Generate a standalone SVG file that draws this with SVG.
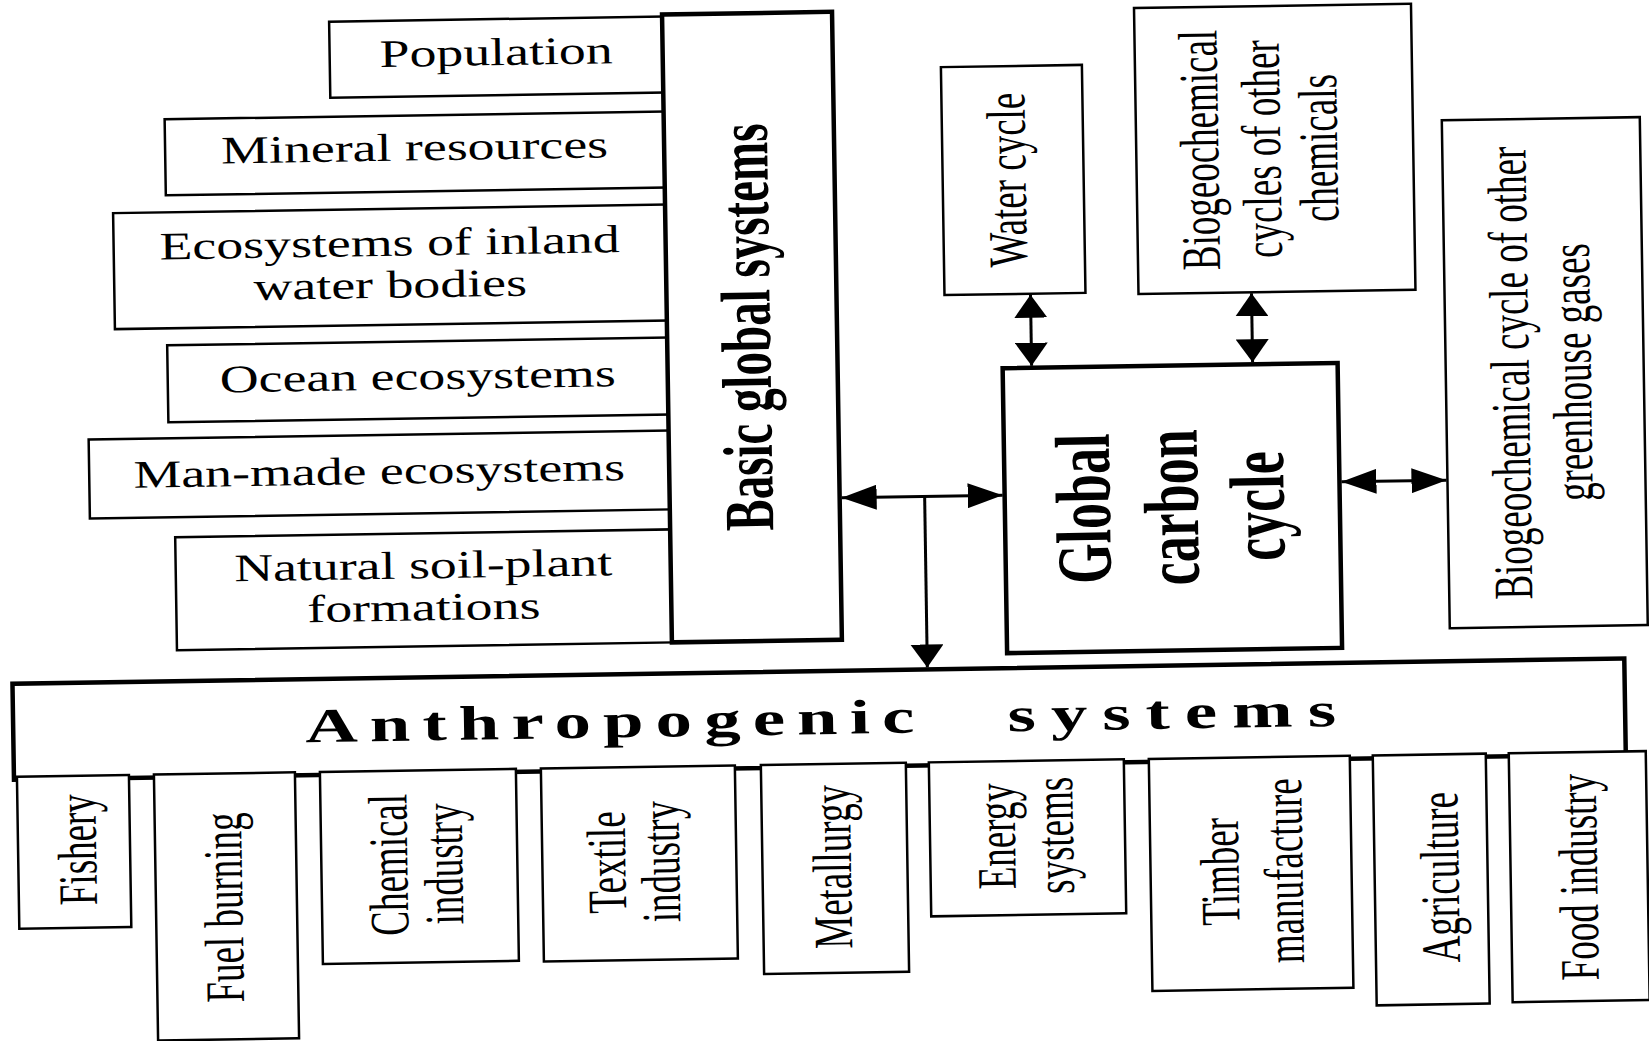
<svg xmlns="http://www.w3.org/2000/svg" width="1649" height="1041" viewBox="0 0 1649 1041">
<style>
.bx{fill:#fff;stroke:#000;stroke-width:2.5}
.bk{fill:#fff;stroke:#000;stroke-width:4.5}
.t{font-family:"Liberation Serif","Times New Roman",serif;font-size:39px;fill:#000}
.r{font-family:"Liberation Serif","Times New Roman",serif;font-size:37px;fill:#000;text-anchor:middle}
.c{text-anchor:middle}
.b{font-weight:bold}
.cn{fill:none;stroke:#000;stroke-width:3}
</style>
<defs>
<marker id="ahH" markerUnits="userSpaceOnUse" markerWidth="35" markerHeight="25" refX="35" refY="12.5" orient="auto-start-reverse"><path d="M0,0 L35,12.5 L0,25 Z" fill="#000"/></marker>
<marker id="ahV" markerUnits="userSpaceOnUse" markerWidth="23" markerHeight="33" refX="23" refY="16.5" orient="auto-start-reverse"><path d="M0,0 L23,16.5 L0,33 Z" fill="#000"/></marker>
</defs>
<rect width="1649" height="1041" fill="#fff"/>
<g transform="rotate(-0.9 824 520)">
<g id="population"><rect class="bx" x="337" y="14" width="335" height="76"/><text class="t c" transform="translate(503.5,60) scale(1.38,1)">Population</text></g>
<g id="mineral-resources"><rect class="bx" x="171" y="109" width="501" height="76"/><text class="t c" transform="translate(420.5,154) scale(1.38,1)">Mineral resources</text></g>
<g id="inland-water"><rect class="bx" x="118" y="202" width="554" height="116"/><text class="t c" transform="translate(394,249) scale(1.38,1)">Ecosystems of inland</text><text class="t c" transform="translate(394,291) scale(1.38,1)">water bodies</text></g>
<g id="ocean"><rect class="bx" x="170" y="335" width="502" height="77"/><text class="t c" transform="translate(420,383) scale(1.38,1)">Ocean ecosystems</text></g>
<g id="man-made"><rect class="bx" x="90" y="428" width="582" height="79"/><text class="t c" transform="translate(380,477) scale(1.38,1)">Man-made ecosystems</text></g>
<g id="natural-soil"><rect class="bx" x="175" y="527" width="497" height="113"/><text class="t c" transform="translate(422.5,572) scale(1.38,1)">Natural soil-plant</text><text class="t c" transform="translate(422.5,614) scale(1.38,1)">formations</text></g>
<g id="basic-global"><rect class="bk" x="670" y="12" width="170" height="628"/><text class="r b" style="font-size:47px" transform="translate(773,326) scale(1.5,1) rotate(-90)">Basic global systems</text></g>
<g id="water-cycle"><rect class="bx" x="948" y="69" width="141" height="228"/><text class="r" transform="translate(1031,183) scale(1.5,1) rotate(-90)">Water cycle</text></g>
<g id="bio-chemicals"><rect class="bx" x="1142" y="13" width="277" height="286"/><text class="r" transform="translate(1224,156) scale(1.5,1) rotate(-90)">Biogeochemical</text><text class="r" transform="translate(1286,156) scale(1.5,1) rotate(-90)">cycles of other</text><text class="r" transform="translate(1343,156) scale(1.5,1) rotate(-90)">chemicals</text></g>
<g id="global-carbon"><rect class="bk" x="1005" y="371" width="335" height="285"/><text class="r b" style="font-size:52px" transform="translate(1110,513) scale(1.5,1) rotate(-90)">Global</text><text class="r b" style="font-size:52px" transform="translate(1198,513) scale(1.5,1) rotate(-90)">carbon</text><text class="r b" style="font-size:52px" transform="translate(1284,513) scale(1.5,1) rotate(-90)">cycle</text></g>
<g id="greenhouse"><rect class="bx" x="1448" y="130" width="198" height="508"/><text class="r" transform="translate(1531,384) scale(1.5,1) rotate(-90)">Biogeochemical cycle of other</text><text class="r" transform="translate(1593,384) scale(1.5,1) rotate(-90)">greenhouse gases</text></g>
<g id="anthropogenic"><rect class="bk" x="10" y="671" width="1612" height="96"/><text class="t b" style="font-size:48.5px;letter-spacing:8.1px" transform="translate(302,734) scale(1.5,1)">Anthropogenic<tspan dx="32" style="letter-spacing:10px"> systems</tspan></text></g>
<g id="fishery"><rect class="bx" x="13" y="764" width="112" height="152"/><text class="r" transform="translate(91,838) scale(1.5,1) rotate(-90)">Fishery</text></g>
<g id="fuel-burning"><rect class="bx" x="150" y="764" width="141" height="266"/><text class="r" transform="translate(236.5,898) scale(1.5,1) rotate(-90)">Fuel burning</text></g>
<g id="chemical-industry"><rect class="bx" x="316" y="764" width="196" height="192"/><text class="r" transform="translate(402,858) scale(1.5,1) rotate(-90)">Chemical</text><text class="r" transform="translate(457,858) scale(1.5,1) rotate(-90)">industry</text></g>
<g id="textile-industry"><rect class="bx" x="537" y="764" width="194" height="193"/><text class="r" transform="translate(620,859) scale(1.5,1) rotate(-90)">Textile</text><text class="r" transform="translate(674,859) scale(1.5,1) rotate(-90)">industry</text></g>
<g id="metallurgy"><rect class="bx" x="757" y="764" width="145" height="209"/><text class="r" transform="translate(845.5,867) scale(1.5,1) rotate(-90)">Metallurgy</text></g>
<g id="energy-systems"><rect class="bx" x="925" y="764" width="195" height="154"/><text class="r" transform="translate(1010,839) scale(1.5,1) rotate(-90)">Energy</text><text class="r" transform="translate(1068,839) scale(1.5,1) rotate(-90)">systems</text></g>
<g id="timber"><rect class="bx" x="1145" y="764" width="201" height="232"/><text class="r" transform="translate(1233,878) scale(1.5,1) rotate(-90)">Timber</text><text class="r" transform="translate(1297,878) scale(1.5,1) rotate(-90)">manufacture</text></g>
<g id="agriculture"><rect class="bx" x="1369" y="764" width="113" height="250"/><text class="r" transform="translate(1453,887) scale(1.5,1) rotate(-90)">Agriculture</text></g>
<g id="food-industry"><rect class="bx" x="1505" y="764" width="137" height="249"/><text class="r" transform="translate(1591.5,889) scale(1.5,1) rotate(-90)">Food industry</text></g>
<g id="connectors">
<line class="cn" x1="842" y1="498" x2="1003" y2="498" marker-start="url(#ahH)" marker-end="url(#ahH)"/>
<line class="cn" x1="925" y1="498" x2="925" y2="669" marker-end="url(#ahV)"/>
<line class="cn" x1="1034" y1="298" x2="1034" y2="369" marker-start="url(#ahV)" marker-end="url(#ahV)"/>
<line class="cn" x1="1255" y1="300" x2="1255" y2="369" marker-start="url(#ahV)" marker-end="url(#ahV)"/>
<line class="cn" x1="1342" y1="490" x2="1447" y2="490" marker-start="url(#ahH)" marker-end="url(#ahH)"/>
</g>
</g>
</svg>
